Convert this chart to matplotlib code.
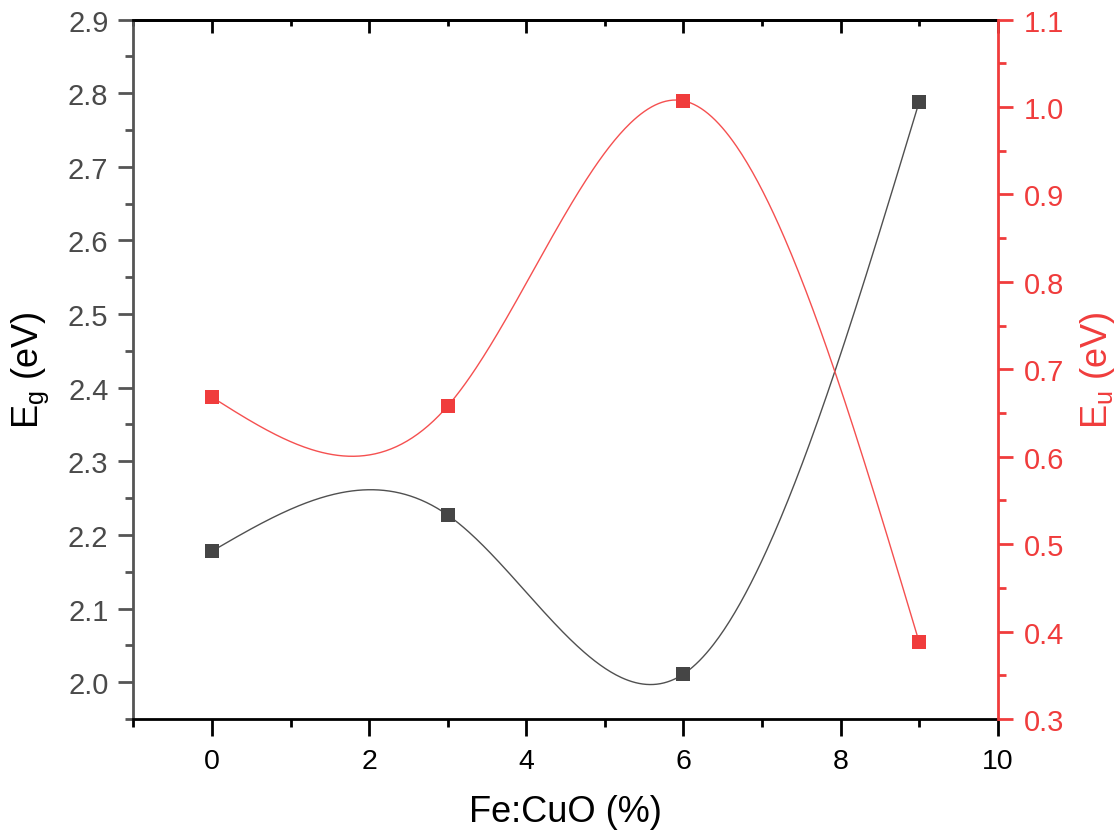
import numpy as np
import matplotlib
matplotlib.use("Agg")
import matplotlib.pyplot as plt
from matplotlib.ticker import MultipleLocator, FormatStrFormatter

plt.rcParams['font.family'] = ['Liberation Sans', 'DejaVu Sans']
plt.rcParams['mathtext.default'] = 'regular'

# Fe doping level (%) and the two energies
fe_cuo = [0, 3, 6, 9]
eg_ev = [2.178, 2.227, 2.011, 2.788]
eu_ev = [0.668, 0.658, 1.007, 0.388]


def natural_spline(x, y, n=400):
    """Natural cubic spline through the given points."""
    x = np.asarray(x, float)
    y = np.asarray(y, float)
    k = len(x)
    h = np.diff(x)
    A = np.zeros((k, k))
    b = np.zeros(k)
    A[0, 0] = A[-1, -1] = 1.0
    for i in range(1, k - 1):
        A[i, i - 1] = h[i - 1]
        A[i, i] = 2 * (h[i - 1] + h[i])
        A[i, i + 1] = h[i]
        b[i] = 6 * ((y[i + 1] - y[i]) / h[i] - (y[i] - y[i - 1]) / h[i - 1])
    M = np.linalg.solve(A, b)
    xs = np.linspace(x[0], x[-1], n)
    idx = np.clip(np.searchsorted(x, xs) - 1, 0, k - 2)
    x0, x1 = x[idx], x[idx + 1]
    hh = x1 - x0
    ys = (M[idx] * (x1 - xs) ** 3 / (6 * hh) + M[idx + 1] * (xs - x0) ** 3 / (6 * hh)
          + (y[idx] / hh - M[idx] * hh / 6) * (x1 - xs)
          + (y[idx + 1] / hh - M[idx + 1] * hh / 6) * (xs - x0))
    return xs, ys


grey = '#454545'
grey_axis = '#555555'
red = '#F03C3C'

fig = plt.figure(figsize=(11.19, 8.37), dpi=100)
ax = fig.add_axes([0.1193, 0.1398, 0.7723, 0.8357])
ax2 = ax.twinx()

# Eg series
xs, ys = natural_spline(fe_cuo, eg_ev)
ax.plot(xs, ys, color='#505050', lw=1.0, zorder=2)
ax.plot(fe_cuo, eg_ev, 's', color=grey, ms=10.5, mew=0, zorder=3)

# Eu series
xs, ys = natural_spline(fe_cuo, eu_ev)
ax2.plot(xs, ys, color='#F55050', lw=1.0, zorder=2)
ax2.plot(fe_cuo, eu_ev, 's', color=red, ms=10.5, mew=0, zorder=3)

ax.set_xlim(-1, 10)
ax.set_ylim(1.95, 2.9)
ax2.set_ylim(0.3, 1.1)

ax.xaxis.set_major_locator(MultipleLocator(2))
ax.xaxis.set_minor_locator(MultipleLocator(1))
ax.yaxis.set_major_locator(MultipleLocator(0.1))
ax.yaxis.set_minor_locator(MultipleLocator(0.05))
ax.yaxis.set_major_formatter(FormatStrFormatter('%.1f'))
ax2.yaxis.set_major_locator(MultipleLocator(0.1))
ax2.yaxis.set_minor_locator(MultipleLocator(0.05))
ax2.yaxis.set_major_formatter(FormatStrFormatter('%.1f'))

# spines
for s in ('top', 'bottom'):
    ax.spines[s].set_color('black')
    ax.spines[s].set_linewidth(2.0)
ax.spines['left'].set_color(grey_axis)
ax.spines['left'].set_linewidth(2.0)
ax.spines['right'].set_visible(False)
for s in ('top', 'bottom', 'left'):
    ax2.spines[s].set_visible(False)
ax2.spines['right'].set_color(red)
ax2.spines['right'].set_linewidth(2.0)

# ticks
ax.tick_params(axis='x', which='major', direction='out', length=12, width=2,
               color='black', labelsize=20.5, pad=9, labelcolor='black')
ax.tick_params(axis='x', which='minor', direction='out', length=5.5, width=2, color='black')
ax.tick_params(axis='y', which='major', direction='out', length=11, width=2,
               color=grey_axis, labelsize=21, pad=7, labelcolor='#4a4a4a')
ax.tick_params(axis='y', which='minor', direction='out', length=5.5, width=2, color=grey_axis)
ax2.tick_params(axis='y', which='major', direction='out', length=11, width=2,
                color=red, labelsize=21, pad=8, labelcolor=red)
ax2.tick_params(axis='y', which='minor', direction='out', length=5.5, width=2, color=red)

top = ax.secondary_xaxis('top')
top.xaxis.set_major_locator(MultipleLocator(2))
top.xaxis.set_minor_locator(MultipleLocator(1))
top.tick_params(axis='x', which='major', direction='in', length=9, width=2,
                color='black', labeltop=False)
top.tick_params(axis='x', which='minor', direction='in', length=4.5, width=2, color='black')
top.spines['top'].set_linewidth(2.0)

ax.set_xlabel('Fe:CuO (%)', fontsize=26, labelpad=14)
ax.set_ylabel('E$_{g}$ (eV)', fontsize=26, labelpad=12, color='black')
ax2.set_ylabel('E$_{u}$ (eV)', fontsize=26, labelpad=10, color=red)

fig.savefig('out.png', dpi=100)
